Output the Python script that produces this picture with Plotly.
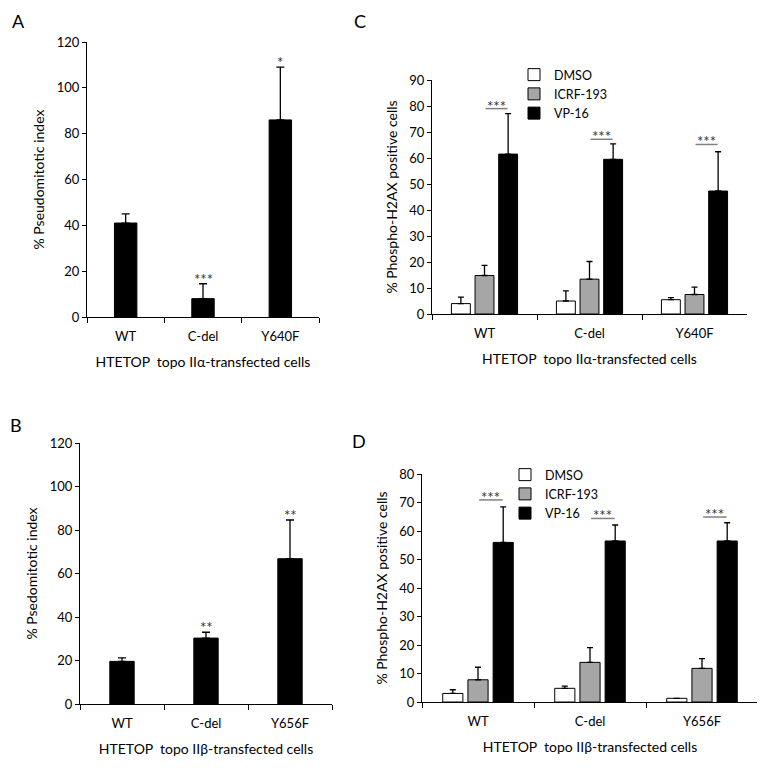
import plotly.graph_objects as go

# categories
cats_a = ["WT", "C-del", "Y640F"]
cats_b = ["WT", "C-del", "Y656F"]
treatments = ["DMSO", "ICRF-193", "VP-16"]

# A: pseudomitotic index, topo IIa cells (bar value, top of error bar)
pseudo_a = [41, 8, 86]
pseudo_a_top = [45, 14.5, 109]
stars_a = ["", "***", "*"]

# B: pseudomitotic index, topo IIb cells
pseudo_b = [19.6, 30.3, 66.8]
pseudo_b_top = [21.2, 33.0, 84.6]
stars_b = ["", "**", "**"]

# C: phospho-H2AX, topo IIa cells
c_dmso = [4.0, 5.0, 5.5]
c_dmso_top = [6.5, 8.9, 6.3]
c_icrf = [14.8, 13.4, 7.5]
c_icrf_top = [18.7, 20.2, 10.3]
c_vp16 = [61.5, 59.5, 47.3]
c_vp16_top = [77.1, 65.4, 62.4]
c_sig_y = [79.0, 67.2, 65.2]

# D: phospho-H2AX, topo IIb cells
d_dmso = [3.0, 4.8, 1.3]
d_dmso_top = [4.3, 5.6, 1.3]
d_icrf = [7.8, 13.9, 11.8]
d_icrf_top = [12.2, 19.1, 15.2]
d_vp16 = [56.0, 56.5, 56.5]
d_vp16_top = [68.5, 62.1, 62.9]
d_sig_y = [70.9, 64.4, 64.9]

FONT = "Lato"
fill_colors = ["white", "#a6a6a6", "black"]
bar_w = 0.18
bar_offsets = [-0.315, -0.09, 0.135]

# the page body has an 8px margin, so the figure is laid out 8px in from the window edge
W, H, PAD = 757, 768, 8


def px_x(a, b):
    return [(a - PAD) / W, (b - PAD) / W]


def px_y(top, bottom):
    return [1 - (bottom - PAD) / H, 1 - (top - PAD) / H]


def up_err(vals, tops, cap):
    return dict(type="data", symmetric=False,
                array=[t - v for v, t in zip(vals, tops)],
                arrayminus=[0] * len(vals),
                color="black", thickness=1.3, width=cap)


fig = go.Figure()

# single-series panels
for cats, vals, tops, ax in [(cats_a, pseudo_a, pseudo_a_top, ""),
                             (cats_b, pseudo_b, pseudo_b_top, "3")]:
    fig.add_trace(go.Bar(
        x=cats, y=vals, width=0.29,
        marker=dict(color="black", line=dict(color="black", width=1)),
        error_y=up_err(vals, tops, 4),
        xaxis="x" + ax, yaxis="y" + ax, showlegend=False
    ))

# grouped panels
groups = [
    (cats_a, [c_dmso, c_icrf, c_vp16], [c_dmso_top, c_icrf_top, c_vp16_top], "2", "legend"),
    (cats_b, [d_dmso, d_icrf, d_vp16], [d_dmso_top, d_icrf_top, d_vp16_top], "4", "legend2"),
]
for cats, series, tops, ax, leg in groups:
    for i, name in enumerate(treatments):
        fig.add_trace(go.Bar(
            x=cats, y=series[i], name=name,
            width=bar_w, offset=bar_offsets[i],
            marker=dict(color=fill_colors[i], line=dict(color="black", width=1)),
            error_y=up_err(series[i], tops[i], 3),
            xaxis="x" + ax, yaxis="y" + ax, legend=leg
        ))

annotations = []
shapes = []

# significance stars on A/B
for cats, tops, stars, ax in [(cats_a, pseudo_a_top, stars_a, ""),
                              (cats_b, pseudo_b_top, stars_b, "3")]:
    for c, t, s in zip(cats, tops, stars):
        if s:
            annotations.append(dict(x=c, y=t, xref="x" + ax, yref="y" + ax, text=s,
                                    showarrow=False, yanchor="bottom", yshift=-6,
                                    font=dict(size=15, color="#333")))

# significance lines + stars on C/D (ICRF-193 vs VP-16)
for cats, sig, ax in [(cats_a, c_sig_y, "2"), (cats_b, d_sig_y, "4")]:
    for i, y in enumerate(sig):
        shapes.append(dict(type="line", xref="x" + ax, yref="y" + ax,
                           x0=i + 0.01, x1=i + 0.22, y0=y, y1=y,
                           line=dict(color="#808080", width=1.5)))
        annotations.append(dict(x=i + 0.115, y=y, xref="x" + ax, yref="y" + ax, text="***",
                                showarrow=False, yanchor="bottom", yshift=-8,
                                font=dict(size=15, color="#333")))

# panel letters (kept fully inside the figure)
letters = [("A", 18, 0, "center", "top"), ("C", 360, 2, "center", "top"),
           ("B", 3, 412, "left", "top"), ("D", 359, 428, "center", "top")]
for letter, px, py, xa, ya in letters:
    annotations.append(dict(x=max(px - PAD, 0) / W, y=1 - max(py - PAD, 0) / H,
                            xref="paper", yref="paper", text=letter, showarrow=False,
                            xanchor=xa, yanchor=ya, font=dict(size=18, color="black")))

xtitle_a = "HTETOP\u00a0 topo II\u03b1-transfected cells"
xtitle_b = "HTETOP\u00a0 topo II\u03b2-transfected cells"

axis_common = dict(showline=True, linecolor="black", linewidth=1, ticks="outside",
                   tickcolor="black", ticklen=4, showgrid=False, zeroline=False,
                   automargin=False, tickfont=dict(size=13, color="black"))


def xaxis(domain, anchor, title):
    return dict(axis_common, domain=domain, anchor=anchor, type="category",
                tickson="boundaries", ticklen=5, range=[-0.5, 2.5],
                ticklabelstandoff=7,
                title=dict(text=title, font=dict(size=14, color="black"), standoff=14))


def yaxis(domain, anchor, rng, dt, title):
    return dict(axis_common, domain=domain, anchor=anchor, range=rng, dtick=dt,
                title=dict(text=title, font=dict(size=14, color="black"), standoff=8))


fig.update_layout(
    width=W, height=H,
    margin=dict(l=0, r=0, t=0, b=0),
    paper_bgcolor="white", plot_bgcolor="white",
    font=dict(family=FONT, color="black"),
    barmode="overlay",
    xaxis=xaxis(px_x(87, 319), "y", xtitle_a),
    yaxis=yaxis(px_y(42, 317), "x", [0, 120], 20, "% Pseudomitotic index"),
    xaxis2=xaxis(px_x(432, 747), "y2", xtitle_a),
    yaxis2=yaxis(px_y(80, 314), "x2", [0, 90], 10, "% Phospho-H2AX positive cells"),
    xaxis3=xaxis(px_x(80, 332), "y3", xtitle_b),
    yaxis3=yaxis(px_y(443, 704), "x3", [0, 120], 20, "% Psedomitotic index"),
    xaxis4=xaxis(px_x(422, 758), "y4", xtitle_b),
    yaxis4=yaxis(px_y(474, 702), "x4", [0, 80], 10, "% Phospho-H2AX positive cells"),
    legend=dict(x=(514 - PAD) / W, y=1 - (60 - PAD) / H, xanchor="left", yanchor="top",
                bgcolor="rgba(0,0,0,0)", font=dict(size=12.5), itemwidth=30,
                tracegroupgap=0),
    legend2=dict(x=(505 - PAD) / W, y=1 - (460 - PAD) / H, xanchor="left", yanchor="top",
                 bgcolor="rgba(0,0,0,0)", font=dict(size=12.5), itemwidth=30,
                 tracegroupgap=0),
    annotations=annotations,
    shapes=shapes,
)

fig.write_html("out.html")
